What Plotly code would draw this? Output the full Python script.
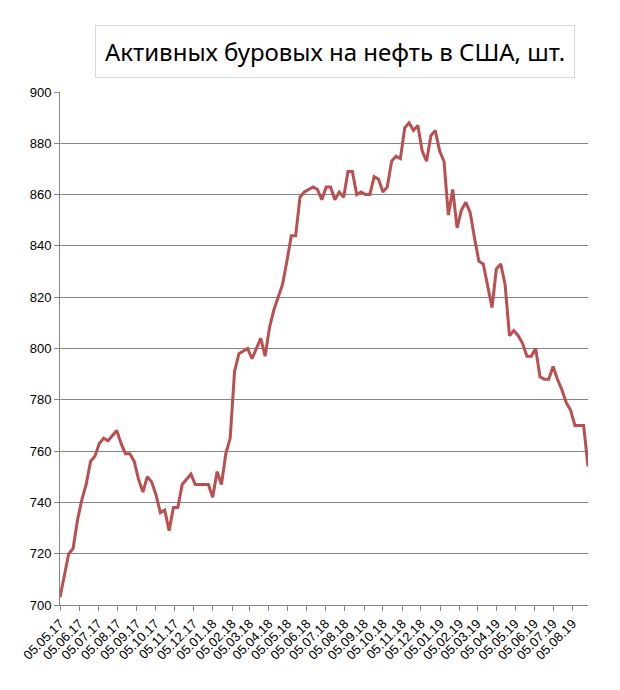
import pandas as pd
import plotly.graph_objects as go

# Активные буровые на нефть в США (Baker Hughes), еженедельно
start_date = "2017-05-05"
rigs = [703, 712, 720, 722, 733, 741, 747, 756, 758, 763,
        765, 764, 766, 768, 763, 759, 759, 756, 749, 744,
        750, 748, 743, 736, 737, 729, 738, 738, 747, 749,
        751, 747, 747, 747, 747, 742, 752, 747, 759, 765,
        791, 798, 799, 800, 796, 800, 804, 797, 808, 815,
        820, 825, 834, 844, 844, 859, 861, 862, 863, 862,
        858, 863, 863, 858, 861, 859, 869, 869, 860, 861,
        860, 860, 867, 866, 861, 863, 873, 875, 874, 886,
        888, 885, 887, 877, 873, 883, 885, 877, 873, 852,
        862, 847, 854, 857, 853, 843, 834, 833, 824, 816,
        831, 833, 825, 805, 807, 805, 802, 797, 797, 800,
        789, 788, 788, 793, 788, 784, 779, 776, 770, 770,
        770, 754]
dates = pd.date_range(start=start_date, periods=len(rigs), freq="7D")
tick_vals = [pd.Timestamp(year=2017 + (4 + i) // 12, month=(4 + i) % 12 + 1, day=5) for i in range(28)]
tick_text = [d.strftime("%d.%m.%y") for d in tick_vals]

fig = go.Figure()
fig.add_trace(go.Scatter(
    x=dates, y=rigs, mode="lines",
    line=dict(color="#b9504f", width=3),
    showlegend=False,
))

fig.add_annotation(
    text="Активных буровых на нефть в США, шт.",
    xref="paper", yref="paper", x=0.52, y=1.0, yanchor="bottom", yshift=14,
    showarrow=False,
    font=dict(family="Noto Sans", size=24, color="#000000"),
    bordercolor="#d9d9d9", borderwidth=1, borderpad=9,
)

fig.update_layout(
    width=620, height=690,
    margin=dict(l=48, r=40, t=84, b=93),
    plot_bgcolor="white", paper_bgcolor="white",
    font=dict(family="Liberation Sans", size=13, color="#000000"),
    xaxis=dict(
        tickmode="array", tickvals=tick_vals, ticktext=tick_text,
        tickangle=-45, showgrid=False, showline=True, linecolor="#868686",
        ticks="outside", ticklen=5, tickcolor="#868686",
        range=[dates[0], dates[-1]],
    ),
    yaxis=dict(
        range=[700, 900], dtick=20, showgrid=True, gridcolor="#868686",
        showline=True, linecolor="#868686", ticks="outside", ticklen=5,
        tickcolor="#868686", zeroline=False,
    ),
)

fig.write_html("out.html")
